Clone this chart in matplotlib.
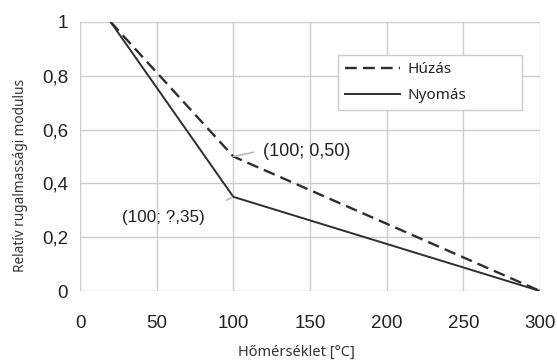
import matplotlib
matplotlib.use("Agg")
import matplotlib.pyplot as plt

# Relative modulus of elasticity vs temperature
temp_huzas = [20, 100, 300]
mod_huzas = [1.0, 0.50, 0.0]
temp_nyomas = [20, 100, 300]
mod_nyomas = [1.0, 0.35, 0.0]

x_ticks = [0, 50, 100, 150, 200, 250, 300]
y_ticks = [0, 0.2, 0.4, 0.6, 0.8, 1.0]
y_tick_labels = ["0", "0,2", "0,4", "0,6", "0,8", "1"]

fig = plt.figure(figsize=(5.57, 3.61), dpi=100)
ax = fig.add_axes([80 / 557, 1 - 291 / 361, 460 / 557, 269 / 361])

line_col = "#2e2e2e"
ax.plot(temp_huzas, mod_huzas, color=line_col, lw=1.7, ls=(0, (5.0, 2.6)), label="Húzás")
ax.plot(temp_nyomas, mod_nyomas, color=line_col, lw=1.4, label="Nyomás")

ax.set_xlim(0, 300)
ax.set_ylim(0, 1)
ax.set_xticks(x_ticks)
ax.set_yticks(y_ticks)
ax.set_yticklabels(y_tick_labels)
ax.grid(True, color="#cccccc", lw=1.0)
ax.set_axisbelow(True)
for s in ax.spines.values():
    s.set_visible(False)
ax.tick_params(length=0, labelsize=13.5, colors="#222222")
ax.tick_params(axis="x", pad=17)
ax.tick_params(axis="y", pad=8.5)
for lab in ax.get_xticklabels() + ax.get_yticklabels():
    lab.set_family("Liberation Sans")

ax.set_xlabel("Hőmérséklet [°C]", family="Noto Sans", fontsize=10.5, color="#333333")
ax.xaxis.set_label_coords(0.47, -0.227)
ax.xaxis.label.set_va("center")
ax.set_ylabel("Relatív rugalmassági modulus", family="Noto Sans", fontsize=9.8, color="#333333")
ax.yaxis.set_label_coords(-0.13, 0.431)
ax.yaxis.label.set_va("center")

ann_col = "#bbbbbb"
ax.annotate("(100; 0,50)", xy=(temp_huzas[1], mod_huzas[1]),
            xytext=(119.3, 0.517), textcoords="data", family="Liberation Sans", fontsize=13,
            color="#222222", va="center", ha="left",
            arrowprops=dict(arrowstyle="-", color=ann_col, lw=1.2, shrinkA=5, shrinkB=0,
                            relpos=(0.0, 0.6)))
ax.annotate("(100; ?,35)", xy=(temp_nyomas[1], mod_nyomas[1]),
            xytext=(27.4, 0.275), textcoords="data", family="Liberation Sans", fontsize=12.3,
            color="#222222", va="center", ha="left",
            arrowprops=dict(arrowstyle="-", color=ann_col, lw=1.2, shrinkA=15, shrinkB=1,
                            relpos=(1.0, 0.95)))

leg = ax.legend(loc="upper left", bbox_to_anchor=(0.561, 0.665, 0.4, 0.212), mode="expand",
                frameon=True, fancybox=False, edgecolor="#cccccc", framealpha=1,
                prop={"family": "Noto Sans", "size": 11}, handlelength=3.6,
                borderpad=0.45, labelspacing=0.75, handletextpad=0.5, borderaxespad=0)
leg.get_frame().set_linewidth(1.0)
for t in leg.get_texts():
    t.set_color("#222222")

fig.savefig("out.png", dpi=100, facecolor="white")
